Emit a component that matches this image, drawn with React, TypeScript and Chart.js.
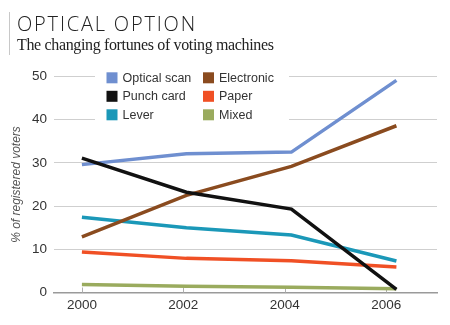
import React, { useEffect, useRef } from "react";
import { Chart, registerables } from "chart.js";

Chart.register(...registerables);

// Election points (Nov. elections sit slightly past the year tick)
const electionDates = [2000, 2002.06, 2004.13, 2006.2];
const tickYears = [2000, 2002, 2004, 2006];

const opticalScan = [29.6, 32.1, 32.5, 49.1];
const electronic = [12.9, 22.5, 29.2, 38.6];
const punchCard = [31.1, 23.2, 19.3, 0.7];
const paper = [9.4, 7.9, 7.35, 5.9];
const lever = [17.4, 15.0, 13.3, 7.3];
const mixed = [1.85, 1.45, 1.2, 0.85];

const seriesLabels = ["Optical scan", "Electronic", "Punch card", "Paper", "Lever", "Mixed"];
const seriesColors = ["#6f8fd0", "#8a4b1f", "#111111", "#f05025", "#1b98b8", "#9aab5e"];
const seriesValues = [opticalScan, electronic, punchCard, paper, lever, mixed];
const legendColumnOrder = [
  ["Optical scan", "Punch card", "Lever"],
  ["Electronic", "Paper", "Mixed"],
];

const titleText = "OPTICAL OPTION";
const subtitleText = "The changing fortunes of voting machines";
const yAxisTitle = "% of registered voters";

const SANS = "'Liberation Sans', Arial, Helvetica, sans-serif";

export default function App() {
  const ref = useRef<HTMLCanvasElement | null>(null);

  useEffect(() => {
    if (!ref.current) return;

    const headerPlugin = {
      id: "header",
      afterDraw(chart: any) {
        const ctx = chart.ctx;
        ctx.save();
        ctx.strokeStyle = "#c8c8c8";
        ctx.lineWidth = 1;
        ctx.beginPath();
        ctx.moveTo(9.5, 12);
        ctx.lineTo(9.5, 55);
        ctx.stroke();
        ctx.fillStyle = "#222";
        ctx.textBaseline = "alphabetic";
        ctx.textAlign = "left";
        ctx.font = "300 20px 'Open Sans', Lato, sans-serif";
        (ctx as any).letterSpacing = "0px";
        const w = ctx.measureText(titleText).width;
        (ctx as any).letterSpacing = ((180 - w) / titleText.length).toFixed(2) + "px";
        ctx.fillText(titleText, 17, 31);
        ctx.font = "16px 'Liberation Serif', 'DejaVu Serif', serif";
        (ctx as any).letterSpacing = "-0.35px";
        ctx.fillText(subtitleText, 17, 50);
        (ctx as any).letterSpacing = "0px";
        ctx.restore();
      },
    };

    const legendPlugin = {
      id: "insideLegend",
      beforeDatasetsDraw(chart: any) {
        const ctx = chart.ctx;
        ctx.save();
        ctx.fillStyle = "#ffffff";
        ctx.fillRect(95, 68, 194, 58);
        ctx.font = "12.5px " + SANS;
        ctx.textBaseline = "middle";
        ctx.textAlign = "left";
        const colX = [106.5, 203];
        legendColumnOrder.forEach((col, ci) => {
          col.forEach((label, ri) => {
            const idx = seriesLabels.indexOf(label);
            const y = 72.3 + ri * 18.5;
            ctx.fillStyle = seriesColors[idx];
            ctx.fillRect(colX[ci], y, 11, 11);
            ctx.fillStyle = "#333";
            ctx.fillText(label, colX[ci] + 16, y + 6);
          });
        });
        ctx.restore();
      },
    };

    const tickMarkPlugin = {
      id: "innerTicks",
      beforeDatasetsDraw(chart: any) {
        const ctx = chart.ctx;
        const xs = chart.scales.x;
        const bottom = chart.chartArea.bottom;
        ctx.save();
        ctx.strokeStyle = "#b0b0b0";
        ctx.lineWidth = 1;
        tickYears.forEach((t) => {
          const px = Math.round(xs.getPixelForValue(t)) + 0.5;
          ctx.beginPath();
          ctx.moveTo(px, bottom - 5);
          ctx.lineTo(px, bottom);
          ctx.stroke();
        });
        ctx.restore();
      },
    };

    const chart = new Chart(ref.current, {
      type: "line",
      data: {
        datasets: seriesLabels.map((label, i) => ({
          label,
          data: electionDates.map((x, j) => ({ x, y: seriesValues[i][j] })),
          borderColor: seriesColors[i],
          backgroundColor: seriesColors[i],
          borderWidth: 3.5,
          pointRadius: 0,
          tension: 0,
          borderJoinStyle: "miter" as const,
          borderCapStyle: "butt" as const,
          order: label === "Punch card" ? 0 : i + 1,
        })),
      },
      options: {
        animation: false,
        responsive: false,
        maintainAspectRatio: false,
        layout: { padding: { top: 76.5, left: 0, right: 13, bottom: 0 } },
        plugins: {
          legend: { display: false },
          tooltip: { enabled: false },
          title: { display: false },
        },
        scales: {
          x: {
            type: "linear",
            min: 1999.45,
            max: 2007,
            afterBuildTicks: (s: any) => {
              s.ticks = tickYears.map((v) => ({ value: v }));
            },
            afterFit: (s: any) => {
              s.height = 32.5;
            },
            grid: { display: false, drawTicks: false },
            border: { display: true, color: "#9a9a9a", width: 1.5 },
            ticks: {
              padding: 5,
              color: "#333",
              font: { family: SANS, size: 13.5 },
              callback: (v: any) => String(v),
              maxRotation: 0,
              autoSkip: false,
            },
          },
          y: {
            min: 0,
            max: 50,
            afterFit: (s: any) => {
              s.width = 54;
            },
            grid: {
              color: (c: any) => (c.tick && c.tick.value === 0 ? "rgba(0,0,0,0)" : "#cfcfcf"),
              lineWidth: 1,
              drawTicks: false,
            },
            border: { display: false },
            ticks: {
              stepSize: 10,
              padding: 7,
              color: "#333",
              font: { family: SANS, size: 13.5 },
            },
            title: {
              display: true,
              text: yAxisTitle,
              color: "#555",
              padding: { top: 9, bottom: 0 },
              font: { family: SANS, size: 12, style: "italic" },
            },
          },
        },
      },
      plugins: [tickMarkPlugin, legendPlugin, headerPlugin],
    });

    return () => chart.destroy();
  }, []);

  return (
    <div style={{ position: "fixed", left: 0, top: 0, width: 450, height: 325, background: "#fff" }}>
      <canvas ref={ref} width={450} height={325} style={{ width: 450, height: 325 }} />
    </div>
  );
}
